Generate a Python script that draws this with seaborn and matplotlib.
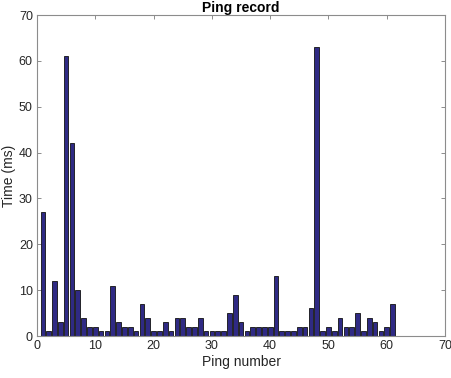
import matplotlib
matplotlib.use("Agg")
import matplotlib.pyplot as plt
import seaborn as sns
import pandas as pd

ping_number = list(range(1, 62))
time_ms = [27, 1, 12, 3, 61, 42, 10, 4, 2, 2,
           1, 1, 11, 3, 2, 2, 1, 7, 4, 1,
           1, 3, 1, 4, 4, 2, 2, 4, 1, 1,
           1, 1, 5, 9, 3, 1, 2, 2, 2, 2,
           13, 1, 1, 1, 2, 2, 6, 63, 1, 2,
           1, 4, 2, 2, 5, 1, 4, 3, 1, 2,
           7]
ticks = [0, 10, 20, 30, 40, 50, 60, 70]

sns.set_style("white")
plt.rcParams['font.family'] = ['Liberation Sans', 'DejaVu Sans']

df = pd.DataFrame({"ping": ping_number, "time": time_ms})

fig = plt.figure(figsize=(4.52, 3.78), dpi=100)
ax = fig.add_axes([0.0819, 0.1111, 0.9027, 0.8492])
sns.barplot(data=df, x="ping", y="time", native_scale=True, width=0.8,
            color="#2f2a84", saturation=1, edgecolor="#111111", linewidth=0.6, ax=ax)

ax.set_xlim(0, 70)
ax.set_ylim(0, 70)
ax.set_xticks(ticks)
ax.set_yticks(ticks)
ax.set_xticklabels([str(t) for t in ticks])
ax.set_yticklabels([str(t) for t in ticks])
ax.tick_params(direction="in", length=3, width=0.6, color="#7a7a7a",
               labelsize=9, labelcolor="#262626", top=True, right=True,
               bottom=True, left=True, pad=3)
for s in ax.spines.values():
    s.set_visible(True)
    s.set_color("#8c8c8c")
    s.set_linewidth(0.8)
ax.set_xlabel("Ping number", fontsize=10, color="#262626", labelpad=2)
ax.set_ylabel("Time (ms)", fontsize=10, color="#262626", labelpad=2)
ax.set_title("Ping record", fontsize=10, fontweight="bold", color="black", pad=2)

fig.savefig("out.png", dpi=100)
